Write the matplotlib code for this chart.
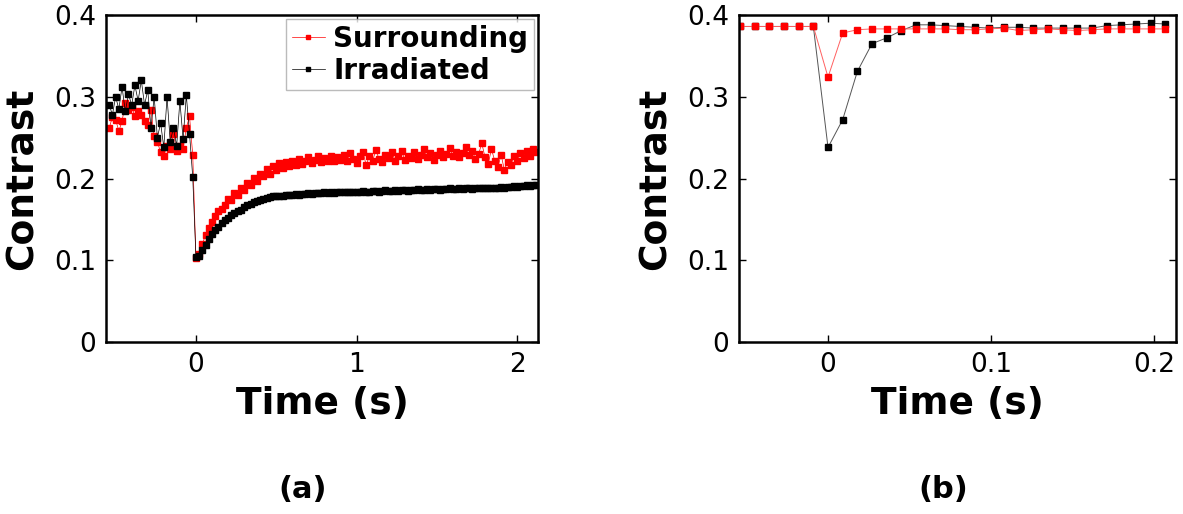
import numpy as np
import matplotlib
matplotlib.use('Agg')
import matplotlib.pyplot as plt

# ---- panel (a): long time trace, sampled every 0.02 s ----
dt_a = 0.02
n_pre_a = 27

surr_a_pre = [0.262, 0.275, 0.272, 0.258, 0.270, 0.292, 0.284, 0.288, 0.276, 0.282,
              0.278, 0.270, 0.266, 0.284, 0.252, 0.245, 0.232, 0.228, 0.240, 0.236,
              0.255, 0.234, 0.240, 0.236, 0.262, 0.276, 0.229]
irr_a_pre = [0.290, 0.278, 0.300, 0.285, 0.312, 0.282, 0.303, 0.290, 0.314, 0.295,
             0.320, 0.290, 0.308, 0.262, 0.300, 0.250, 0.268, 0.238, 0.300, 0.245,
             0.262, 0.240, 0.295, 0.248, 0.302, 0.255, 0.202]

surr_a_post = [0.103, 0.108, 0.120, 0.131, 0.140, 0.147, 0.154, 0.160, 0.163, 0.168,
               0.175, 0.174, 0.182, 0.180, 0.189, 0.186, 0.195, 0.192, 0.201, 0.197,
               0.206, 0.203, 0.212, 0.206, 0.215, 0.210, 0.219, 0.213, 0.220, 0.215,
               0.222, 0.216, 0.224, 0.218, 0.221, 0.226, 0.219, 0.223, 0.227, 0.220,
               0.225, 0.222, 0.228, 0.221, 0.226, 0.223, 0.229, 0.222, 0.231, 0.224,
               0.219, 0.227, 0.233, 0.216, 0.228, 0.221, 0.235, 0.224, 0.220, 0.229,
               0.225, 0.232, 0.222, 0.227, 0.234, 0.223, 0.228, 0.225, 0.233, 0.224,
               0.229, 0.236, 0.226, 0.231, 0.223, 0.229, 0.234, 0.226, 0.230, 0.237,
               0.228, 0.233, 0.226, 0.231, 0.238, 0.229, 0.234, 0.224, 0.230, 0.243,
               0.226, 0.218, 0.236, 0.222, 0.214, 0.229, 0.211, 0.220, 0.216, 0.227,
               0.221, 0.231, 0.225, 0.234, 0.228, 0.236, 0.233]
irr_a_post = [0.104, 0.105, 0.112, 0.119, 0.126, 0.132, 0.137, 0.141, 0.145, 0.149,
              0.152, 0.155, 0.158, 0.160, 0.162, 0.165, 0.167, 0.169, 0.171, 0.172,
              0.174, 0.175, 0.176, 0.177, 0.178, 0.178, 0.179, 0.179, 0.180, 0.180,
              0.180, 0.181, 0.180, 0.181, 0.181, 0.182, 0.181, 0.182, 0.182, 0.182,
              0.183, 0.182, 0.183, 0.182, 0.183, 0.183, 0.184, 0.183, 0.184, 0.183,
              0.184, 0.184, 0.185, 0.184, 0.184, 0.185, 0.185, 0.184, 0.185, 0.186,
              0.185, 0.185, 0.186, 0.185, 0.186, 0.186, 0.185, 0.186, 0.186, 0.187,
              0.186, 0.186, 0.187, 0.186, 0.187, 0.187, 0.186, 0.187, 0.187, 0.188,
              0.187, 0.187, 0.188, 0.187, 0.188, 0.188, 0.187, 0.188, 0.188, 0.189,
              0.188, 0.189, 0.189, 0.188, 0.189, 0.190, 0.189, 0.190, 0.190, 0.191,
              0.190, 0.191, 0.191, 0.192, 0.191, 0.192, 0.192]

surr_a = surr_a_pre + surr_a_post
irr_a = irr_a_pre + irr_a_post
t_a = dt_a * np.arange(-n_pre_a, len(surr_a) - n_pre_a)

# ---- panel (b): zoom on the pulse, sampled every 0.009 s ----
dt_b = 0.009
n_pre_b = 6
surr_b = [0.386, 0.386, 0.386, 0.386, 0.386, 0.386,
          0.324, 0.378, 0.382, 0.383, 0.383, 0.383, 0.383, 0.383, 0.383, 0.382,
          0.382, 0.383, 0.384, 0.381, 0.382, 0.383, 0.382, 0.381, 0.382, 0.383,
          0.383, 0.383, 0.383, 0.383]
irr_b = [0.386, 0.386, 0.386, 0.386, 0.386, 0.386,
         0.238, 0.272, 0.331, 0.365, 0.372, 0.381, 0.388, 0.388, 0.387, 0.386,
         0.385, 0.384, 0.385, 0.385, 0.384, 0.384, 0.384, 0.384, 0.384, 0.387,
         0.388, 0.389, 0.390, 0.389]
t_b = dt_b * np.arange(-n_pre_b, len(surr_b) - n_pre_b)

fig = plt.figure(figsize=(11.83, 5.14), dpi=100)
ax1 = fig.add_axes([0.0896, 0.3346, 0.3652, 0.6362])
ax2 = fig.add_axes([0.6247, 0.3346, 0.3694, 0.6362])

RED = '#ff0000'
l_s, = ax1.plot(t_a, surr_a, '-s', color=RED, lw=0.5, ms=3.8, mec=RED, label='Surrounding')
l_i, = ax1.plot(t_a, irr_a, '-s', color='black', lw=0.5, ms=3.8, label='Irradiated')

ax2.plot(t_b, irr_b, '-s', color='#555555', lw=0.7, ms=4.0, mfc='black', mec='black')
ax2.plot(t_b, surr_b, '-s', color='#ff6060', lw=0.7, ms=4.0, mfc=RED, mec=RED)

ax1.set_xlim(-0.56, 2.13)
ax2.set_xlim(-0.0546, 0.2135)
ax1.set_xticks([0, 1, 2])
ax1.set_xticklabels(['0', '1', '2'])
ax2.set_xticks([0, 0.1, 0.2])
ax2.set_xticklabels(['0', '0.1', '0.2'])

for ax in (ax1, ax2):
    ax.set_ylim(0, 0.4)
    ax.set_yticks([0, 0.1, 0.2, 0.3, 0.4])
    ax.set_yticklabels(['0', '0.1', '0.2', '0.3', '0.4'])
    ax.tick_params(direction='in', top=True, right=True, length=5, width=1,
                   labelsize=19, pad=7)
    for s in ax.spines.values():
        s.set_linewidth(1.8)
    ax.set_xlabel('Time (s)', fontsize=27, fontweight='bold', labelpad=6)
    ax.set_ylabel('Contrast', fontsize=27, fontweight='bold', labelpad=10)

leg = ax1.legend(handles=[l_s, l_i], loc='upper right',
                 prop={'weight': 'bold', 'size': 20}, handlelength=1.2,
                 handletextpad=0.3, borderaxespad=0.15, borderpad=0.2,
                 labelspacing=0.15, fancybox=False, markerscale=0.6)
leg.get_frame().set_edgecolor('#aaaaaa')
leg.get_frame().set_linewidth(1.0)

fig.text(303 / 1183, 1 - 490 / 514, '(a)', ha='center', va='center',
         fontsize=22, fontweight='bold')
fig.text(943 / 1183, 1 - 490 / 514, '(b)', ha='center', va='center',
         fontsize=22, fontweight='bold')

fig.savefig('out.png', dpi=100, facecolor='white')
